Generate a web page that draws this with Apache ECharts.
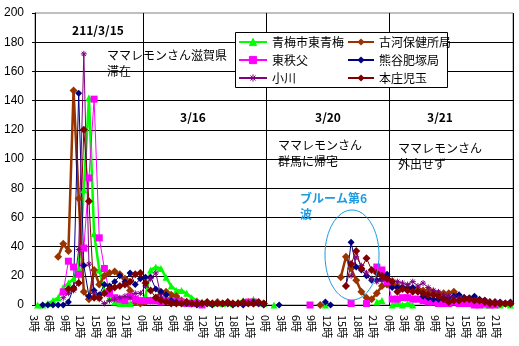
<!DOCTYPE html>
<html><head><meta charset="utf-8">
<script src="https://cdn.jsdelivr.net/npm/echarts@6/dist/echarts.min.js"></script>
<style>html,body{margin:0;padding:0;background:#fff}#c{width:519px;height:346px}</style>
</head><body><div id="c"></div>
<script>
// ---- data ----
const days = ['3/15', '3/16', '3/20', '3/21'];
const firstHour = [3, 0, 0, 0];
const yTicks = [0, 20, 40, 60, 80, 100, 120, 140, 160, 180, 200];
const seriesNames = ['青梅市東青梅', '古河保健所局', '東秩父', '熊谷肥塚局', '小川', '本庄児玉'];
const N = null;
const ome = [0,0,1,3,5,12,15,18,25,79,142,49,24,10,5,2,1,1,1,2,2,
  6,24,26,25,19,13,10,10,8,5,3,2,2,1,2,1,2,1,2,3,2,4,2,1,
  N,0,N,N,N,N,N,N,N,N,N,0,N,N,N,N,N,N,N,N,N,2,3,N,
  0,1,0,1,0,N,N,N,N,N,N,N,N,N,N,N,N,1,0,0,1,0,1,0];
const koga = [N,N,N,N,33,42,37,147,73,9,4,24,14,20,22,23,21,18,10,2,1,
  2,3,5,9,9,7,6,3,2,1,2,1,1,1,2,1,1,1,1,1,2,1,1,1,
  N,N,N,N,N,N,N,N,N,N,0,N,N,N,19,33,25,17,9,5,4,8,13,14,
  14,13,12,12,11,11,10,10,9,8,8,8,9,6,5,4,4,3,3,2,2,1,1,1];
const higashichichibu = [N,N,N,N,N,9,30,26,21,39,87,141,46,25,8,5,4,3,6,4,3,
  3,3,3,2,3,3,2,2,1,1,1,0,N,N,N,N,N,N,N,N,2,2,N,N,
  N,N,N,N,N,N,N,N,0,N,N,N,N,N,N,N,1,N,N,1,N,26,24,16,
  4,4,5,5,4,4,3,2,2,1,1,1,2,1,1,1,0,0,1,0,0,N,N,N];
const kumagaya = [N,0,0,0,0,0,2,12,145,27,6,10,7,14,13,16,20,16,22,14,18,
  19,19,11,9,7,3,2,1,1,1,0,1,1,0,1,1,1,0,1,0,1,2,1,0,
  N,N,0,N,N,N,N,N,N,N,N,2,0,N,N,13,43,26,24,20,17,17,18,21,
  12,12,12,11,12,9,6,5,4,4,5,5,6,7,5,5,6,4,3,2,2,2,1,2];
const ogawa = [N,N,N,N,N,5,8,10,38,172,28,8,4,1,3,4,5,6,5,8,8,
  13,18,22,6,3,2,1,1,1,1,1,1,1,1,1,1,1,1,1,1,1,1,1,1,
  N,N,N,N,N,N,N,N,N,N,N,N,N,N,N,N,20,33,27,22,18,16,17,18,
  17,16,15,14,16,13,15,12,10,9,7,6,5,5,4,4,3,3,3,2,2,2,1,1];
const honjo = [N,N,N,N,N,N,11,11,15,120,71,5,5,8,11,12,13,14,16,21,22,
  15,10,5,3,2,1,1,1,2,1,1,1,2,1,1,1,2,1,1,2,1,1,2,1,
  N,N,N,N,N,N,N,N,N,N,N,N,N,N,N,13,28,37,25,32,24,22,20,18,
  16,9,11,10,9,9,8,7,7,6,4,2,3,3,4,4,3,3,2,1,1,1,1,1];

// categories
const categories = [];
const dayStart = [];
days.forEach((d, k) => {
  dayStart.push(categories.length);
  for (let h = firstHour[k]; h < 24; h++) categories.push(d + ' ' + h + '時');
});

const chart = echarts.init(document.getElementById('c'));
const jp = 'Noto Sans CJK JP';
const star = 'path://M0,5L10,5M5,0L5,10M1.5,1.5L8.5,8.5M8.5,1.5L1.5,8.5';
const styles = [
  {color:'#00ff00', symbol:'triangle', size:7, width:2.5},
  {color:'#993300', symbol:'diamond', size:8, width:2.5},
  {color:'#ff00ff', symbol:'rect', size:7, width:1},
  {color:'#000080', symbol:'diamond', size:7, width:1},
  {color:'#800080', symbol:star, size:6, width:1},
  {color:'#800000', symbol:'diamond', size:8, width:1}
];
const values = [ome, koga, higashichichibu, kumagaya, ogawa, honjo];
const series = values.map((v, k) => ({
  name: seriesNames[k], type: 'line', data: v,
  symbol: styles[k].symbol, symbolSize: styles[k].size, showAllSymbol: true,
  itemStyle: {color: styles[k].color, borderColor: styles[k].color, borderWidth: k === 4 ? 1 : 0},
  lineStyle: {color: styles[k].color, width: styles[k].width},
  emphasis: {disabled: true}, connectNulls: false
}));

const legendCommon = {orient:'vertical', top:36, itemWidth:28, itemHeight:9, itemGap:6, padding:0,
  textStyle:{fontSize:12, color:'#000', fontFamily:jp}, selectedMode:false};

chart.setOption({
  animation: false,
  backgroundColor: '#fff',
  grid: {left:35, right:6, top:13, bottom:41, show:true, borderColor:'#808080', borderWidth:1},
  legend: [
    Object.assign({}, legendCommon, {left:238, itemStyle:{borderWidth:1},
      data:[seriesNames[0], seriesNames[2], seriesNames[4]]}),
    Object.assign({}, legendCommon, {left:347, itemWidth:26, data:[seriesNames[1], seriesNames[3], seriesNames[5]]})
  ],
  xAxis: {
    type:'category', data: categories, boundaryGap: true,
    axisLine:{lineStyle:{color:'#000', width:1}},
    axisTick:{show:false},
    axisLabel:{interval:(i) => i % 3 === 0, rotate:-90, margin:10, fontSize:11, color:'#000', fontFamily:jp,
      verticalAlign:'top', lineHeight:7,
      formatter:(v) => v.split(' ')[1]},
    splitLine:{show:true, interval:(i) => dayStart.indexOf(i) > 0, lineStyle:{color:'#000', width:1}}
  },
  yAxis: {
    type:'value', min:yTicks[0], max:yTicks[yTicks.length-1], interval:20,
    axisLine:{show:true, lineStyle:{color:'#000', width:1}},
    axisTick:{show:true, length:3, lineStyle:{color:'#000'}},
    axisLabel:{margin:11, fontSize:12, color:'#000', fontFamily:'Liberation Sans'},
    splitLine:{show:true, showMaxLine:false, lineStyle:{color:'#000', width:1}}
  },
  series: series,
  graphic: [
    {type:'rect', z:3, shape:{x:235.5, y:32.5, width:212, height:55}, style:{fill:'#fff', stroke:'#000', lineWidth:1}},
    {type:'text', z:5, x:98, y:30, style:{text:'211/3/15', fontSize:12, fontWeight:'bold', fontFamily:jp, fill:'#000', align:'center', verticalAlign:'middle'}},
    {type:'text', z:5, x:193, y:117, style:{text:'3/16', fontSize:12, fontWeight:'bold', fontFamily:jp, fill:'#000', align:'center', verticalAlign:'middle'}},
    {type:'text', z:5, x:328, y:117, style:{text:'3/20', fontSize:12, fontWeight:'bold', fontFamily:jp, fill:'#000', align:'center', verticalAlign:'middle'}},
    {type:'text', z:5, x:440, y:117, style:{text:'3/21', fontSize:12, fontWeight:'bold', fontFamily:jp, fill:'#000', align:'center', verticalAlign:'middle'}},
    {type:'text', z:5, x:107, y:47, style:{text:'ママレモンさん滋賀県\n滞在', fontSize:12, lineHeight:16, fontFamily:jp, fill:'#000'}},
    {type:'text', z:5, x:278, y:137, style:{text:'ママレモンさん\n群馬に帰宅', fontSize:12, lineHeight:16, fontFamily:jp, fill:'#000'}},
    {type:'text', z:5, x:398, y:140, style:{text:'ママレモンさん\n外出せず', fontSize:12, lineHeight:16, fontFamily:jp, fill:'#000'}},
    {type:'text', z:5, x:300, y:190, style:{text:'ブルーム第6\n波', fontSize:12, lineHeight:16, fontWeight:'bold', fontFamily:jp, fill:'#1e9be0'}},
    {type:'ellipse', z:5, shape:{cx:352, cy:255, rx:27, ry:45}, style:{fill:'none', stroke:'#1e9be0', lineWidth:1}}
  ]
});
</script></body></html>
